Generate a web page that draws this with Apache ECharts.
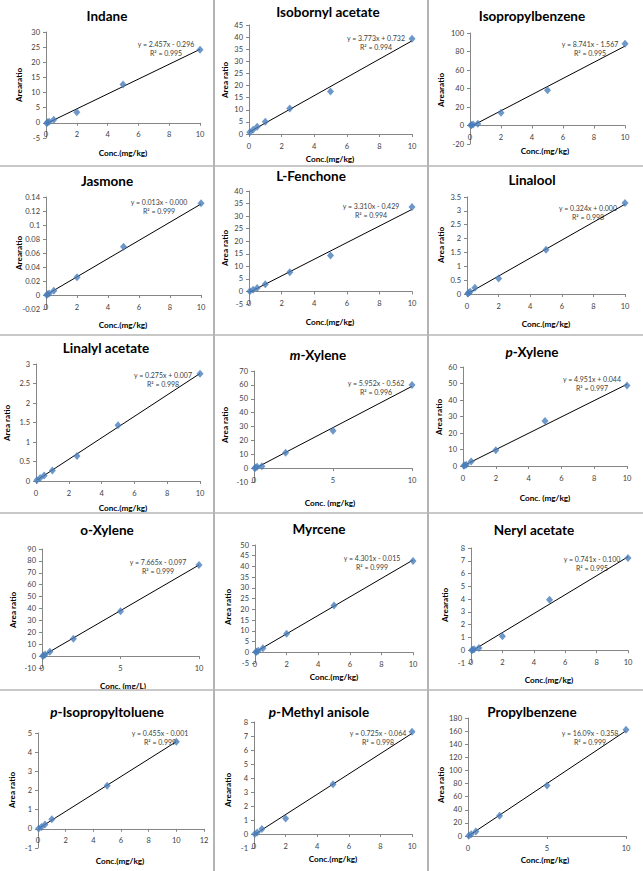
<!DOCTYPE html>
<html><head><meta charset="utf-8">
<script src="https://cdn.jsdelivr.net/npm/echarts@6/dist/echarts.min.js"></script>
<style>html,body{margin:0;padding:0;background:#fff}#c{width:643px;height:871px}</style>
</head><body><div id="c"></div>
<script>
// ---------- DATA ----------
const names = ['Indane','Isobornyl acetate','Isopropylbenzene','Jasmone','L-Fenchone','Linalool','Linalyl acetate','-Xylene','-Xylene','o-Xylene','Myrcene','Neryl acetate','-Isopropyltoluene','-Methyl anisole','Propylbenzene'];
const italicPrefix = ['','','','','','','','m','p','','','','p','p',''];
const yTitles = ['Arearatio','Area ratio','Arearatio','Arearatio','Area ratio','Area ratio','Area ratio','Area ratio','Area ratio','Area ratio','Area ratio','Arearatio','Area ratio','Arearatio','Area ratio'];
const xTitles = ['Conc.(mg/kg)','Conc.(mg/kg)','Conc.(mg/kg)','Conc.(mg/kg)','Conc.(mg/kg)','Conc.(mg/kg)','Conc.(mg/kg)','Conc. (mg/kg)','Conc. (mg/kg)','Conc. (mg/L)','Conc.(mg/kg)','Conc.(mg/kg)','Conc.(mg/kg)','Conc.(mg/kg)','Conc.(mg/kg)'];
const eqTexts = ['y = 2.457x - 0.296','y = 3.773x + 0.732','y = 8.741x - 1.567','y = 0.013x - 0.000','y = 3.310x - 0.429','y = 0.324x + 0.000','y = 0.275x + 0.007','y = 5.952x - 0.562','y = 4.951x + 0.044','y = 7.665x - 0.097','y = 4.301x - 0.015','y = 0.741x - 0.100','y = 0.455x - 0.001','y = 0.725x - 0.064','y = 16.09x - 0.358'];
const r2Texts = ['R² = 0.995','R² = 0.994','R² = 0.995','R² = 0.999','R² = 0.994','R² = 0.998','R² = 0.998','R² = 0.996','R² = 0.997','R² = 0.999','R² = 0.999','R² = 0.995','R² = 0.999','R² = 0.998','R² = 0.999'];
const slopes = [2.457,3.773,8.741,0.013,3.310,0.324,0.275,5.952,4.951,7.665,4.301,0.741,0.455,0.725,16.09];
const intercepts = [-0.296,0.732,-1.567,-0.000,-0.429,0.000,0.007,-0.562,0.044,-0.097,-0.015,-0.100,-0.001,-0.064,-0.358];

const concA = [0.05,0.1,0.2,0.5,2,5,10];
const concB = [0.05,0.25,0.5,1,2.5,5,10];
const concC = [0.05,0.25,0.5,1,5,10];
const concD = [0.05,0.2,0.5,2,5,10];
const conc = [concA,concB,concA,concA,concB,concA,concB,concA,concA,concA,concA,concA,concC,concD,concD];

const areaIndane = [-0.1,0.2,0.4,1.0,3.5,12.7,24.1];
const areaIsobornyl = [0.7,1.8,3.0,5.1,10.5,17.5,39.3];
const areaIsopropylbenzene = [0.2,0.6,1.0,1.8,13.8,38.2,88.5];
const areaJasmone = [0.000,0.001,0.002,0.006,0.0255,0.069,0.131];
const areaFenchone = [0.1,0.7,1.4,2.9,7.6,14.3,33.6];
const areaLinalool = [0.02,0.04,0.08,0.23,0.56,1.6,3.28];
const areaLinalylAc = [0.02,0.08,0.14,0.27,0.64,1.43,2.75];
const areaMXylene = [0.0,0.5,1.0,1.4,11.0,26.9,60.0];
const areaPXylene = [0.1,0.4,0.8,2.8,9.5,27.2,48.8];
const areaOXylene = [0.0,0.5,1.4,3.6,14.5,37.6,76.5];
const areaMyrcene = [0.1,0.3,0.7,1.9,8.6,21.8,42.6];
const areaNeryl = [0.0,0.03,0.07,0.18,1.1,3.95,7.22];
const areaPCymene = [0.02,0.1,0.22,0.5,2.25,4.55];
const areaPMethylAnisole = [0.0,0.1,0.35,1.1,3.55,7.3];
const areaPropylbenzene = [0.3,2.5,7.0,31.0,77.0,162.0];
const areas = [areaIndane,areaIsobornyl,areaIsopropylbenzene,areaJasmone,areaFenchone,areaLinalool,areaLinalylAc,areaMXylene,areaPXylene,areaOXylene,areaMyrcene,areaNeryl,areaPCymene,areaPMethylAnisole,areaPropylbenzene];

// axis ranges [min,max,interval]
const yRanges = [[-5,30,5],[0,45,5],[-20,100,20],[-0.02,0.14,0.02],[-5,40,5],[0,3.5,0.5],[0,3,0.5],[-10,70,10],[0,60,10],[-10,90,10],[-5,50,5],[-1,8,1],[-1,5,1],[-1,8,1],[0,180,20]];
const xRanges = [[0,10,2],[0,10,2],[0,10,2],[0,10,2],[0,10,2],[0,10,2],[0,10,2],[0,10,5],[0,10,2],[0,10,5],[0,10,2],[0,10,2],[0,12,2],[0,10,2],[0,10,5]];

// ---------- LAYOUT ----------
// [gridLeft, gridRight, gridTop, gridBottom, titleX, titleY, yTitleX, yTitleY, xTitleX, xTitleY, eqX, eqY]
const layout = [
 [46,200,32,138, 107,16, 19,85, 123,153, 166,44],
 [249,412,25,134, 328,12, 225,80, 330,159, 376,38],
 [470,625,33,144, 532,16, 441,90, 545,151, 590,44],
 [46,201,197,309, 107,181, 19,253, 123,325, 159,202],
 [249,412,191,304, 311,176, 225,248, 330,322, 371,206],
 [467,625,197,294, 532,180, 441,245, 546,324, 588,208],
 [36,200,364,481, 106,348, 7,423, 123,508, 163,375],
 [254,412,371,482, 318,355, 225,425, 330,503, 376,383],
 [463,627,367,466, 532,352, 439,417, 545,498, 592,379],
 [42,199,549,668, 107,530, 13,610, 123,686, 158,562],
 [255,413,545,663, 319,529, 228,607, 334,677, 372,558],
 [471,628,548,663, 534,530, 445,605, 549,680, 592,559],
 [38,204,733,848, 107,712, 12,790, 120,861, 160,733],
 [254,412,722,848, 319,712, 228,790, 333,859, 378,733],
 [468,626,718,836, 532,712, 441,785, 545,860, 590,733]
];

const FONT = 'Lato, "Open Sans", sans-serif';
const grids=[], xAxes=[], yAxes=[], series=[], graphics=[];
for (let i=0;i<15;i++){
  const L = layout[i];
  const h = L[3]-L[2];
  const yr = yRanges[i];
  const zeroOffset = (0 - yr[0])/(yr[1]-yr[0])*h; // distance of y=0 above grid bottom
  grids.push({left:L[0], top:L[2], width:L[1]-L[0], height:h, containLabel:false, outerBoundsMode:'none'});
  xAxes.push({type:'value', gridIndex:i, position:'bottom', offset:-zeroOffset,
    min:xRanges[i][0], max:xRanges[i][1], interval:xRanges[i][2],
    axisLine:{show:true, onZero:false, lineStyle:{color:'#868686', width:1}},
    axisTick:{show:true, length:3, lineStyle:{color:'#868686'}},
    axisLabel:{fontSize:7.5, color:'#404040', margin:8, fontFamily:FONT, showMinLabel:true, showMaxLabel:true, hideOverlap:false},
    splitLine:{show:false}});
  yAxes.push({type:'value', gridIndex:i, position:'left',
    min:yr[0], max:yr[1], interval:yr[2],
    axisLine:{show:true, onZero:false, lineStyle:{color:'#868686', width:1}},
    axisTick:{show:true, length:3, lineStyle:{color:'#868686'}},
    axisLabel:{fontSize:7.5, color:'#404040', margin:6, fontFamily:FONT, showMinLabel:true, showMaxLabel:true, hideOverlap:false},
    splitLine:{show:false}});
  const pts = conc[i].map((x,k)=>[x, areas[i][k]]);
  const x0 = conc[i][0], x1 = conc[i][conc[i].length-1];
  series.push({type:'line', xAxisIndex:i, yAxisIndex:i, data:[[x0, slopes[i]*x0+intercepts[i]],[x1, slopes[i]*x1+intercepts[i]]],
    symbol:'none', lineStyle:{color:'#000', width:1}, silent:true, z:2, animation:false});
  series.push({type:'scatter', xAxisIndex:i, yAxisIndex:i, data:pts, symbol:'diamond', symbolSize:[7,8],
    itemStyle:{color:'#4A7EBB'}, z:3, animation:false});
  // texts
  const t = italicPrefix[i] ? '{i|'+italicPrefix[i]+'}'+names[i] : names[i];
  graphics.push({type:'text', x:L[4], y:L[5], style:{text:t, align:'center', verticalAlign:'middle',
    font:'bold 13.5px '+FONT, fill:'#000', rich:{i:{fontStyle:'italic', fontWeight:'bold', fontSize:13.5, fontFamily:FONT, fill:'#000'}}}});
  graphics.push({type:'text', x:L[6], y:L[7], rotation:Math.PI/2, style:{text:yTitles[i], align:'center', verticalAlign:'middle',
    font:'bold 8.2px '+FONT, fill:'#000'}});
  graphics.push({type:'text', x:L[8], y:L[9], style:{text:xTitles[i], align:'center', verticalAlign:'middle',
    font:'bold 8.2px '+FONT, fill:'#000'}});
  graphics.push({type:'text', x:L[10], y:L[11], style:{text:eqTexts[i], align:'center', verticalAlign:'middle',
    font:'7px '+FONT, fill:'#404040'}});
  graphics.push({type:'text', x:L[10], y:L[11]+9, style:{text:r2Texts[i], align:'center', verticalAlign:'middle',
    font:'7px '+FONT, fill:'#404040'}});
}
// cell borders
const hLines=[166,335,513,690], vLines=[214,428];
hLines.forEach(y=>graphics.push({type:'line', shape:{x1:0,y1:y,x2:643,y2:y}, style:{stroke:'#c8c8c8', lineWidth:2}}));
vLines.forEach(x=>graphics.push({type:'line', shape:{x1:x,y1:0,x2:x,y2:871}, style:{stroke:'#b4b4b4', lineWidth:2}}));

const chart = echarts.init(document.getElementById('c'), null, {renderer:'svg'});
chart.setOption({animation:false, backgroundColor:'#fff', grid:grids, xAxis:xAxes, yAxis:yAxes, series:series, graphic:graphics});
</script></body></html>
